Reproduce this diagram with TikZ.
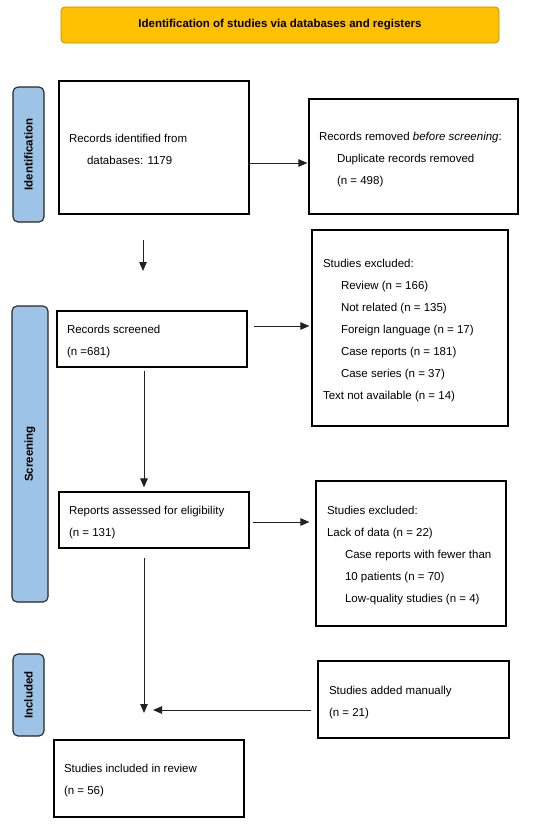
\documentclass[tikz,border=0pt]{standalone}
\usepackage{fontspec}
\setmainfont{Liberation Sans}
\usetikzlibrary{arrows.meta,calc}
\definecolor{hdrfill}{HTML}{FFC000}
\definecolor{hdrline}{HTML}{BF9000}
\definecolor{sidefill}{HTML}{9DC3E6}
\definecolor{arrcol}{HTML}{222222}
\begin{document}
\begin{tikzpicture}[x=1pt,y=-1pt,
  every node/.style={font=\fontsize{11.5}{13}\selectfont},
  boxx/.style={draw=black,line width=1.2pt,rectangle,inner sep=0pt},
  txt/.style={anchor=base west,inner sep=0pt,outer sep=0pt},
  side/.style={draw=black!85,fill=sidefill,line width=1.1pt,rounded corners=5pt,inner sep=0pt},
  sidetxt/.style={rotate=90,font=\fontsize{11.5}{13}\selectfont\bfseries,inner sep=0pt},
  arr/.style={draw=arrcol,line width=0.9pt,-{Triangle[length=9pt,width=7.5pt]}}
]
\useasboundingbox (0,0) rectangle (550,825);
\fill[white] (0,0) rectangle (550,825);
% header
\node[draw=hdrline,fill=hdrfill,line width=0.8pt,rounded corners=4pt,minimum width=438pt,minimum height=36pt,inner sep=0pt,font=\fontsize{11.5}{13}\selectfont\bfseries] (hdr) at (280,25) {Identification of studies via databases and registers};
% side labels
\node[side,minimum width=31pt,minimum height=135pt] (sideid) at (28.5,154.5) {};
\node[sidetxt] (sideidt) at (sideid.center) {Identification};
\node[side,minimum width=36pt,minimum height=296pt] (sidesc) at (30,454) {};
\node[sidetxt] (sidesct) at (sidesc.center) {Screening};
\node[side,minimum width=31pt,minimum height=82pt] (sidein) at (28.5,695) {};
\node[sidetxt] (sideint) at (sidein.center) {Included};
% boxes
\node[boxx,minimum width=190pt,minimum height=133pt] (b1) at (154,147.5) {};
\node[txt] (b1a) at (69,142) {Records identified from};
\node[txt] (b1b) at (87,164) {databases: 1179};

\node[boxx,minimum width=209pt,minimum height=115pt] (b2) at (413.5,156.5) {};
\node[txt] (b2a) at (319,140) {Records removed \textit{before screening}:};
\node[txt] (b2b) at (337,162) {Duplicate records removed};
\node[txt] (b2c) at (337,184) {(n = 498)};

\node[boxx,minimum width=196pt,minimum height=196pt] (b3) at (410,328) {};
\node[txt] (b3a) at (323,267) {Studies excluded:};
\node[txt] (b3b) at (341,289) {Review (n = 166)};
\node[txt] (b3c) at (341,311) {Not related (n = 135)};
\node[txt] (b3d) at (341,333) {Foreign language (n = 17)};
\node[txt] (b3e) at (341,355) {Case reports (n = 181)};
\node[txt] (b3f) at (341,377) {Case series (n = 37)};
\node[txt] (b3g) at (323,399) {Text not available (n = 14)};

\node[boxx,minimum width=190pt,minimum height=56pt] (b4) at (152,339) {};
\node[txt] (b4a) at (67,333) {Records screened};
\node[txt] (b4b) at (67,355) {(n =681)};

\node[boxx,minimum width=190pt,minimum height=56pt] (b5) at (154,520) {};
\node[txt] (b5a) at (69,514) {Reports assessed for eligibility};
\node[txt] (b5b) at (69,536) {(n = 131)};

\node[boxx,minimum width=190pt,minimum height=145pt] (b6) at (411,553.5) {};
\node[txt] (b6a) at (327,514) {Studies excluded:};
\node[txt] (b6b) at (327,536) {Lack of data (n = 22)};
\node[txt] (b6c) at (345,558) {Case reports with fewer than};
\node[txt] (b6d) at (345,580) {10 patients (n = 70)};
\node[txt] (b6e) at (345,602) {Low-quality studies (n = 4)};

\node[boxx,minimum width=191pt,minimum height=77pt] (b7) at (413.5,699.5) {};
\node[txt] (b7a) at (329,694) {Studies added manually};
\node[txt] (b7b) at (329,716) {(n = 21)};

\node[boxx,minimum width=190pt,minimum height=77pt] (b8) at (149,778.5) {};
\node[txt] (b8a) at (64,772) {Studies included in review};
\node[txt] (b8b) at (64,794) {(n = 56)};

% free ends
\coordinate (d1s) at (143,240);
\coordinate (d1e) at (143,271);
\coordinate (m) at (144,713);
\coordinate (a7e) at (153,710);

% connectors
\draw[arr] (b1.east |- 0,163) -- ([xshift=-1pt]b2.west |- 0,163);
\draw[arr] (d1s) -- (d1e);
\draw[arr] ([xshift=6pt]b4.east |- 0,326) -- ([xshift=-2pt]b3.west |- 0,326);
\draw[arr] ([yshift=-3pt]b4.south -| 144,0) -- ([yshift=4pt]b5.north -| 144,0);
\draw[arr] ([xshift=3pt]b5.east |- 0,522) -- ([xshift=-6pt]b6.west |- 0,522);
\draw[arr] ([yshift=-9pt]b5.south -| 144,0) -- (m);
\draw[arr] ([xshift=-6pt]b7.west |- 0,710) -- (a7e);
\end{tikzpicture}
\end{document}
